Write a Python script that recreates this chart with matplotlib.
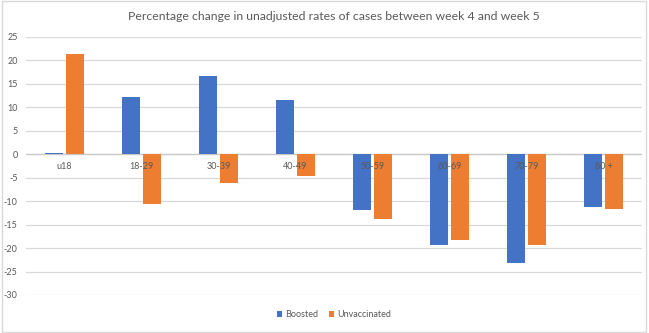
import matplotlib
matplotlib.use("Agg")
import matplotlib.pyplot as plt
import numpy as np
from matplotlib.patches import Rectangle
from matplotlib.transforms import offset_copy

categories = ["u18", "18-29", "30-39", "40-49", "50-59", "60-69", "70-79", "80 +"]
boosted = [0.3, 12.2, 16.7, 11.5, -11.8, -19.3, -23.1, -11.2]
unvaccinated = [21.4, -10.7, -6.2, -4.7, -13.9, -18.2, -19.3, -11.6]
yticks = list(range(-30, 30, 5))

BLUE = "#4472C4"
ORANGE = "#ED7D31"
GRID = "#D9D9D9"
TEXT = "#595959"

plt.rcParams["font.family"] = ["Lato", "DejaVu Sans"]

fig = plt.figure(figsize=(6.49, 3.33), dpi=100)
ax = fig.add_axes([26 / 649, 38 / 333, 616 / 649, 258 / 333])

x = np.arange(len(categories))
w = 0.23
off = 0.135
b1 = ax.bar(x - off, boosted, width=w, color=BLUE, zorder=3, label="Boosted")
b2 = ax.bar(x + off, unvaccinated, width=w, color=ORANGE, zorder=3, label="Unvaccinated")

ax.set_xlim(-0.5, len(categories) - 0.5)
ax.set_ylim(-30, 25)
ax.set_yticks(yticks)
ax.set_yticklabels([str(v) for v in yticks])
ax.tick_params(axis="y", length=0, labelsize=6.5, labelcolor=TEXT, pad=6)
ax.set_xticks([])
ax.grid(axis="y", color=GRID, linewidth=0.9, zorder=0)
ax.axhline(0, color="#C8C8C8", linewidth=0.9, zorder=2)
for s in ax.spines.values():
    s.set_visible(False)

# category labels sit just under the zero line
lbl_tr = offset_copy(ax.transData, fig=fig, x=0, y=-12, units="dots")
for xi, c in zip(x, categories):
    ax.text(xi, 0, c, transform=lbl_tr, ha="center", va="center",
            fontsize=6.5, color=TEXT, zorder=4)

fig.text(334 / 649, 1 - 17 / 333,
         "Percentage change in unadjusted rates of cases between week 4 and week 5",
         ha="center", va="center", fontsize=8.8, color=TEXT)

# legend
ax.legend(handles=[b1, b2], loc="center",
          bbox_to_anchor=(0.5, -0.075), ncol=2, frameon=False,
          fontsize=6.5, handlelength=0.6, handleheight=0.6,
          handletextpad=0.3, columnspacing=1.2, labelcolor=TEXT)

# chart border
fig.patches.append(Rectangle((2 / 649, 1 / 333), 644 / 649, 331 / 333,
                             transform=fig.transFigure, fill=False,
                             edgecolor="#D9D9D9", linewidth=1.0))

fig.savefig("out.png", dpi=100)
